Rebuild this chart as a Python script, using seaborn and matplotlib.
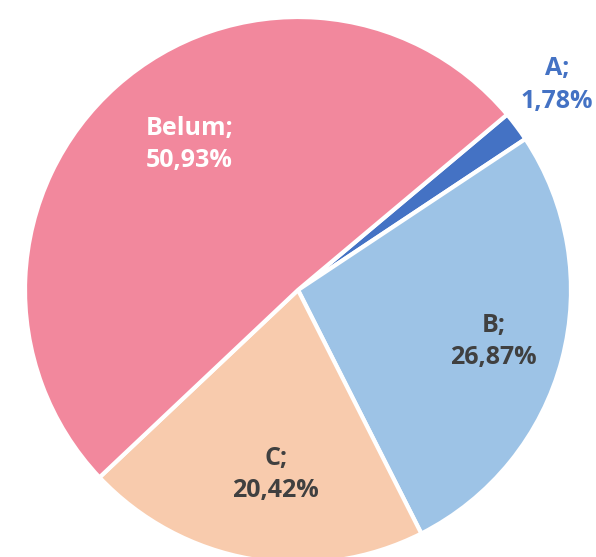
import matplotlib.pyplot as plt
import seaborn as sns
import numpy as np

# Данные диаграммы
categories = ["A", "B", "C", "Belum"]
values = [1.78, 26.87, 20.42, 50.93]
value_labels = ["1,78%", "26,87%", "20,42%", "50,93%"]

colors = sns.color_palette(["#4472C4", "#9DC3E6", "#F8CBAD", "#F2889D"])
text_colors = ["#4472C4", "#404040", "#404040", "#FFFFFF"]
# радиус и сдвиг угла подписи относительно середины сектора
label_dist = [1.21, 0.74, 0.68, 0.665]
label_shift = [1.5, 0.0, 3.0, -5.0]


def main():
    sns.set_theme(style="white")
    plt.rcParams['font.family'] = ['Open Sans', 'DejaVu Sans']

    fig = plt.figure(figsize=(5.96, 5.57), dpi=100)
    ax = fig.add_axes([0, 0, 1, 1])

    wedges, _ = ax.pie(
        values,
        colors=colors,
        startangle=40,
        counterclock=False,
        wedgeprops=dict(edgecolor="white", linewidth=3),
    )

    # подписи по центру каждого сектора
    for w, cat, lab, tc, d, s in zip(wedges, categories, value_labels,
                                     text_colors, label_dist, label_shift):
        ang = np.deg2rad((w.theta1 + w.theta2) / 2 + s)
        ax.text(d * np.cos(ang), d * np.sin(ang), f"{cat};\n{lab}",
                ha="center", va="center", color=tc, fontsize=18,
                fontweight="bold", linespacing=1.4)

    ax.set_aspect("auto")
    ax.set_xlim(-1.0916, 1.0916)
    ax.set_ylim(-0.978, 1.0623)
    ax.axis("off")

    fig.savefig("out.png", dpi=100)


if __name__ == "__main__":
    main()
